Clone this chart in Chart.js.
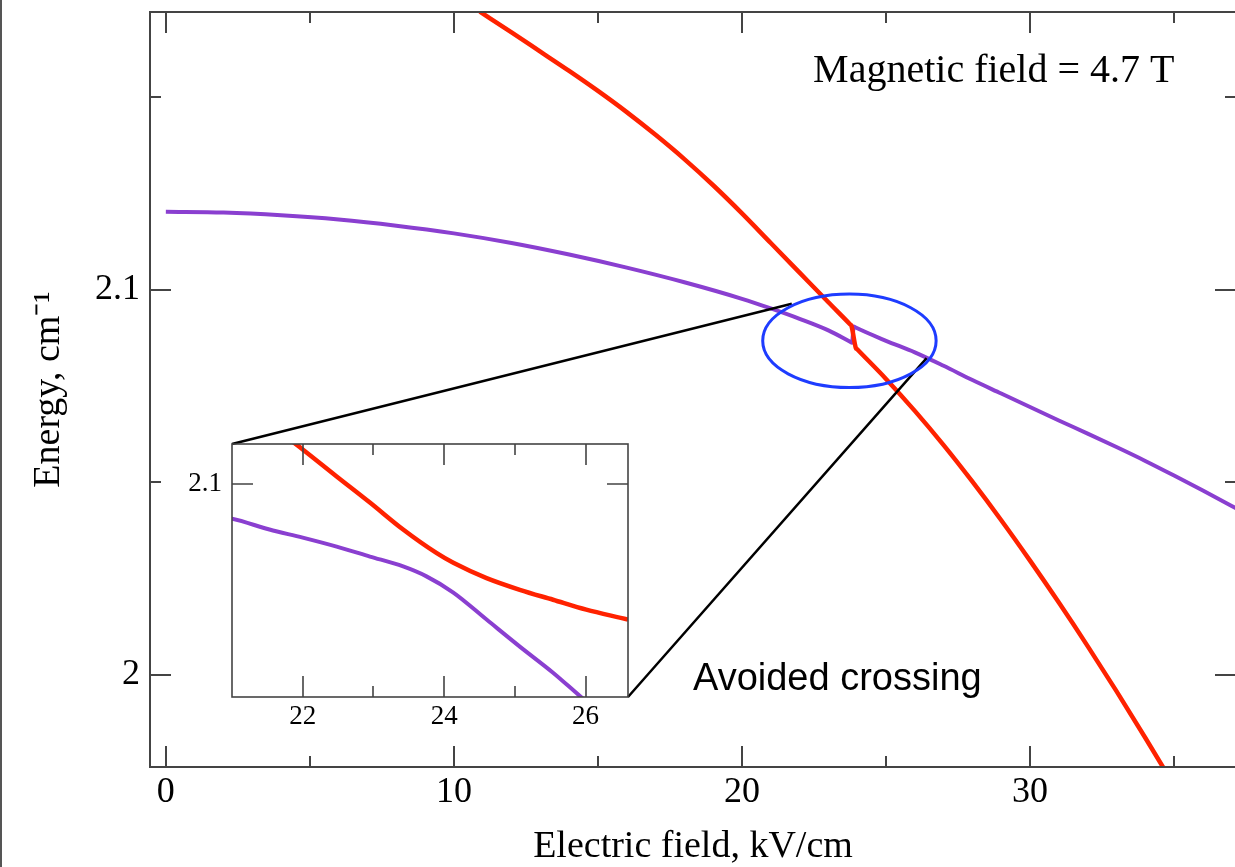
<!DOCTYPE html>
<html>
<head>
<meta charset="utf-8">
<script src="https://cdn.jsdelivr.net/npm/chart.js@4"></script>
<style>
  html, body { margin: 0; padding: 0; background: #fff; overflow: hidden; }
  #wrap { position: relative; width: 1235px; height: 867px; overflow: hidden; }
  #mainChart { position: absolute; left: 0; top: 0; }
  #insetChart { position: absolute; left: 170px; top: 434px; }
  #edge { position: absolute; left: 0; top: 0; width: 2px; height: 867px; background: #555; }
</style>
</head>
<body>
<div id="wrap">
  <canvas id="mainChart" width="1250" height="867"></canvas>
  <canvas id="insetChart" width="470" height="300"></canvas>
  <div id="edge"></div>
</div>
<script>
// main panel: energy levels vs electric field
const redX = [10.9, 12, 13, 14, 15, 16, 17, 18, 19, 20, 21, 22, 23, 23.75, 23.8,
              23.95, 24.0, 25, 26, 27, 28, 29, 30, 31, 32, 33, 34, 35];
const redY = [2.1723, 2.1669, 2.1619, 2.1569, 2.1517, 2.1462, 2.1403, 2.1340, 2.1272, 2.1199, 2.1122, 2.1045, 2.0968, 2.0911, 2.0907,
              2.0850, 2.0846, 2.0769, 2.0686, 2.0597, 2.0502, 2.0402, 2.0297, 2.0188, 2.0075, 1.9958, 1.9837, 1.9713];
const purpleX = [0, 2, 4, 6, 8, 10, 12, 14, 16, 18, 20, 21, 22, 23, 23.77, 23.82,
                 23.88, 23.93, 25, 26, 27, 28, 29, 30, 31, 32, 33, 34, 35, 36, 37, 38];
const purpleY = [2.1203, 2.1201, 2.1194, 2.1183, 2.1167, 2.1147, 2.1122, 2.1092, 2.1058, 2.1020, 2.0977, 2.0952, 2.0925, 2.0895, 2.0865, 2.0863,
                 2.0905, 2.0903, 2.0868, 2.0838, 2.0803, 2.0766, 2.0731, 2.0696, 2.0661, 2.0627, 2.0592, 2.0556, 2.0518, 2.0479, 2.0439, 2.0398];

// inset: zoom on the avoided crossing
const insetRedX = [21.85, 22.0, 22.48, 22.95, 23.42, 23.89, 24.13, 24.6, 25.07, 25.54, 26.01, 26.6, 26.7];
const insetRedY = [2.1047, 2.1038, 2.1008, 2.0979, 2.0949, 2.0923, 2.0912, 2.0895, 2.0882, 2.0871, 2.0860, 2.0849, 2.0847];
const insetPurpleX = [20.9, 21.0, 21.53, 22.0, 22.48, 22.95, 23.42, 23.75, 24.13, 24.6, 25.07, 25.54, 25.92, 26.1];
const insetPurpleY = [2.0962, 2.0961, 2.0949, 2.0940, 2.0930, 2.0919, 2.0908, 2.0897, 2.0879, 2.0849, 2.0819, 2.0790, 2.0764, 2.0752];

// ticks
const mainXTicks = [0, 10, 20, 30];
const mainXLabels = ["0", "10", "20", "30"];
const mainXMinor = [5, 15, 25, 35];
const mainYTicks = [2.0, 2.1];
const mainYLabels = ["2", "2.1"];
const mainYMinor = [2.05, 2.15];
const insetXTicks = [22, 24, 26];
const insetXLabels = ["22", "24", "26"];
const insetXMinor = [23, 25];
const insetYTicks = [2.1];
const insetYLabels = ["2.1"];

// annotation anchors (data units)
const crossingEllipse = { x: 23.73, y: 2.0868, rx: 3.01, ry: 0.01213 };
const zoomLineEnds = [[21.73, 2.0964], [26.41, 2.0823]];
const fieldNote = { text: "Magnetic field = 4.7 T", x: 22.47, y: 2.1541 };
const crossingNote = { text: "Avoided crossing", x: 18.3, y: 1.9961 };

const RED = "#ff2200";
const PURPLE = "#8a3fd0";
const SERIF = "'Liberation Serif', 'Times New Roman', serif";
const SANS = "'Liberation Sans', Arial, sans-serif";

function points(xs, ys) {
  return xs.map((x, i) => ({ x: x, y: ys[i] }));
}

// inward ticks on all four sides plus the box
const frameTicks = {
  id: "frameTicks",
  afterDatasetsDraw(chart, args, o) {
    const { ctx, chartArea: a, scales } = chart;
    ctx.save();
    ctx.strokeStyle = o.color;
    ctx.lineWidth = o.lineWidth;
    ctx.beginPath();
    function xt(vals, len) {
      vals.forEach(v => {
        const p = Math.round(scales.x.getPixelForValue(v));
        ctx.moveTo(p, a.bottom); ctx.lineTo(p, a.bottom - len);
        ctx.moveTo(p, a.top); ctx.lineTo(p, a.top + len);
      });
    }
    function yt(vals, len) {
      vals.forEach(v => {
        const p = Math.round(scales.y.getPixelForValue(v));
        ctx.moveTo(a.left, p); ctx.lineTo(a.left + len, p);
        ctx.moveTo(a.right, p); ctx.lineTo(a.right - len, p);
      });
    }
    xt(o.xMajor, o.majorLen); xt(o.xMinor, o.minorLen);
    yt(o.yMajor, o.majorLen); yt(o.yMinor, o.minorLen);
    ctx.stroke();
    ctx.strokeRect(a.left, a.top, a.right - a.left, a.bottom - a.top);
    ctx.restore();
  }
};

function tickSetter(values) {
  return scale => { scale.ticks = values.map(v => ({ value: v })); };
}

// fixed axis sizes, no overhang padding from the tick labels
function fixX(h) {
  return s => { s.height = h; s.paddingLeft = 0; s.paddingRight = 0; };
}
function fixY(w) {
  return s => { s.width = w; s.paddingTop = 0; s.paddingBottom = 0; };
}

// ---- inset chart
const insetCanvas = document.getElementById("insetChart");
const insetChart = new Chart(insetCanvas, {
  type: "line",
  data: {
    datasets: [
      { data: points(insetRedX, insetRedY), borderColor: RED, borderWidth: 4.5 },
      { data: points(insetPurpleX, insetPurpleY), borderColor: PURPLE, borderWidth: 4 }
    ]
  },
  options: {
    responsive: false,
    animation: false,
    devicePixelRatio: 1,
    layout: { padding: { top: 10, right: 12, left: 0, bottom: 0 } },
    elements: { point: { radius: 0 }, line: { cubicInterpolationMode: "monotone" } },
    plugins: {
      legend: { display: false },
      tooltip: { enabled: false },
      frameTicks: {
        color: "#444", lineWidth: 1.6, majorLen: 21, minorLen: 11,
        xMajor: insetXTicks, xMinor: insetXMinor, yMajor: insetYTicks, yMinor: []
      }
    },
    scales: {
      x: {
        type: "linear", min: 21, max: 26.6,
        afterBuildTicks: tickSetter(insetXTicks),
        afterFit: fixX(37),
        grid: { display: false, drawTicks: false },
        border: { display: false },
        ticks: {
          padding: 4, color: "#000", maxRotation: 0, autoSkip: false,
          font: { family: SERIF, size: 27 },
          callback: (v, i) => insetXLabels[i]
        }
      },
      y: {
        type: "linear", min: 2.0763, max: 2.1044,
        afterBuildTicks: tickSetter(insetYTicks),
        afterFit: fixY(62),
        grid: { display: false, drawTicks: false },
        border: { display: false },
        ticks: {
          padding: 10, color: "#000",
          font: { family: SERIF, size: 27 },
          callback: (v, i) => insetYLabels[i]
        }
      }
    }
  },
  plugins: [frameTicks]
});

// ellipse, zoom lines and notes on the main panel
const notes = {
  id: "notes",
  afterDraw(chart) {
    const { ctx, scales: { x, y } } = chart;
    ctx.save();
    // lines from inset corners to the ellipse
    const ia = insetChart.chartArea;
    const ox = insetCanvas.offsetLeft, oy = insetCanvas.offsetTop;
    ctx.strokeStyle = "#000";
    ctx.lineWidth = 2.5;
    ctx.beginPath();
    ctx.moveTo(ox + ia.left, oy + ia.top);
    ctx.lineTo(x.getPixelForValue(zoomLineEnds[0][0]), y.getPixelForValue(zoomLineEnds[0][1]));
    ctx.moveTo(ox + ia.right, oy + ia.bottom);
    ctx.lineTo(x.getPixelForValue(zoomLineEnds[1][0]), y.getPixelForValue(zoomLineEnds[1][1]));
    ctx.stroke();
    // ellipse
    const cx = x.getPixelForValue(crossingEllipse.x);
    const cy = y.getPixelForValue(crossingEllipse.y);
    const rx = Math.abs(x.getPixelForValue(crossingEllipse.x + crossingEllipse.rx) - cx);
    const ry = Math.abs(y.getPixelForValue(crossingEllipse.y + crossingEllipse.ry) - cy);
    ctx.strokeStyle = "#1e3cff";
    ctx.lineWidth = 3;
    ctx.beginPath();
    ctx.ellipse(cx, cy, rx, ry, 0, 0, Math.PI * 2);
    ctx.stroke();
    // text
    ctx.fillStyle = "#000";
    ctx.textBaseline = "alphabetic";
    ctx.textAlign = "left";
    ctx.font = "40px " + SERIF;
    ctx.fillText(fieldNote.text, x.getPixelForValue(fieldNote.x), y.getPixelForValue(fieldNote.y));
    ctx.font = "38px " + SANS;
    ctx.fillText(crossingNote.text, x.getPixelForValue(crossingNote.x), y.getPixelForValue(crossingNote.y));
    ctx.restore();
  }
};

// ---- main chart
const mainChart = new Chart(document.getElementById("mainChart"), {
  type: "line",
  data: {
    datasets: [
      { data: points(redX, redY), borderColor: RED, borderWidth: 4.5 },
      { data: points(purpleX, purpleY), borderColor: PURPLE, borderWidth: 4 }
    ]
  },
  options: {
    responsive: false,
    animation: false,
    devicePixelRatio: 1,
    layout: { padding: { top: 12, right: 14, left: 0, bottom: 0 } },
    elements: { point: { radius: 0 }, line: { cubicInterpolationMode: "monotone" } },
    plugins: {
      legend: { display: false },
      tooltip: { enabled: false },
      frameTicks: {
        color: "#444", lineWidth: 2, majorLen: 21, minorLen: 11,
        xMajor: mainXTicks, xMinor: mainXMinor, yMajor: mainYTicks, yMinor: mainYMinor
      }
    },
    scales: {
      x: {
        type: "linear", min: -0.55, max: 37.15,
        afterBuildTicks: tickSetter(mainXTicks),
        afterFit: fixX(100),
        grid: { display: false, drawTicks: false },
        border: { display: false },
        ticks: {
          padding: 4, color: "#000", maxRotation: 0, autoSkip: false,
          font: { family: SERIF, size: 36 },
          callback: (v, i) => mainXLabels[i]
        },
        title: {
          display: true, text: "Electric field, kV/cm", color: "#000",
          font: { family: SERIF, size: 38, lineHeight: 1 },
          padding: { top: 0, bottom: 1 }
        }
      },
      y: {
        type: "linear", min: 1.9761, max: 2.1722,
        afterBuildTicks: tickSetter(mainYTicks),
        afterFit: fixY(150),
        grid: { display: false, drawTicks: false },
        border: { display: false },
        ticks: {
          padding: 10, color: "#000",
          font: { family: SERIF, size: 36 },
          callback: (v, i) => mainYLabels[i]
        },
        title: {
          display: true, text: "Energy, cm\u207B\u00B9", color: "#000",
          font: { family: SERIF, size: 38, lineHeight: 1.2 },
          padding: { top: 26, bottom: 0 }
        }
      }
    }
  },
  plugins: [frameTicks, notes]
});
</script>
</body>
</html>
